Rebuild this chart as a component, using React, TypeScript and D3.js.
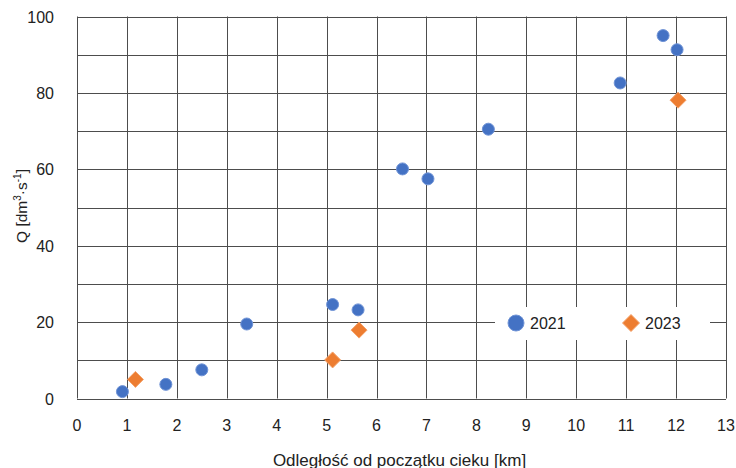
import * as d3 from "d3";

const xTicks = [0, 1, 2, 3, 4, 5, 6, 7, 8, 9, 10, 11, 12, 13];
const yTicks = [0, 20, 40, 60, 80, 100];
const yGrid = [0, 10, 20, 30, 40, 50, 60, 70, 80, 90, 100];

const km2021 = [0.91, 1.78, 2.5, 3.4, 5.12, 5.63, 6.52, 7.03, 8.24, 10.88, 11.74, 12.02];
const q2021 = [1.8, 3.7, 7.5, 19.5, 24.6, 23.2, 60.1, 57.5, 70.5, 82.6, 95.0, 91.3];

const km2023 = [1.17, 5.12, 5.65, 12.04];
const q2023 = [5.0, 10.1, 17.9, 78.1];

const xTitle = "Odległość od początku cieku [km]";

const W = 736;
const H = 468;
const margin = { top: 16.5, right: 10, bottom: 69.5, left: 77 };

const blue = "#4472C4";
const orange = "#ED7D31";
const gridColor = "#4d4d4d";

export default function App() {
  const x = d3.scaleLinear().domain([0, 13]).range([margin.left, W - margin.right]);
  const y = d3.scaleLinear().domain([0, 100]).range([H - margin.bottom, margin.top]);

  const pts2021 = km2021.map((k, i) => [k, q2021[i]]);
  const pts2023 = km2023.map((k, i) => [k, q2023[i]]);

  const diamond = (cx: number, cy: number, r: number) =>
    `M${cx},${cy - r}L${cx + r},${cy}L${cx},${cy + r}L${cx - r},${cy}Z`;

  const font = "'Liberation Sans', Arial, sans-serif";

  return (
    <svg
      width={W}
      height={H}
      style={{ position: "absolute", left: 0, top: 0, fontFamily: font }}
    >
      <rect width={W} height={H} fill="#fff" />
      {yGrid.map((v) => (
        <line
          key={"h" + v}
          x1={x(0)}
          x2={x(13)}
          y1={Math.round(y(v)) + 0.5}
          y2={Math.round(y(v)) + 0.5}
          stroke={gridColor}
          strokeWidth={1}
        />
      ))}
      {xTicks.map((v) => (
        <line
          key={"v" + v}
          x1={Math.round(x(v)) + 0.5}
          x2={Math.round(x(v)) + 0.5}
          y1={y(0)}
          y2={y(100)}
          stroke={gridColor}
          strokeWidth={1}
        />
      ))}
      {yTicks.map((v) => (
        <text
          key={"yl" + v}
          x={54}
          y={y(v) + 6}
          textAnchor="end"
          fontSize={16}
          fill="#222"
        >
          {v}
        </text>
      ))}
      {xTicks.map((v) => (
        <text
          key={"xl" + v}
          x={x(v)}
          y={431}
          textAnchor="middle"
          fontSize={16}
          fill="#222"
        >
          {v}
        </text>
      ))}
      <text x={399.5} y={466} textAnchor="middle" fontSize={17} fill="#222">
        {xTitle}
      </text>
      <text
        transform="translate(27,206) rotate(-90)"
        textAnchor="middle"
        fontSize={15.5}
        fill="#222"
      >
        Q [dm<tspan dy={-6} fontSize={10}>3</tspan>
        <tspan dy={6}>·s</tspan>
        <tspan dy={-6} fontSize={10}>-1</tspan>
        <tspan dy={6}>]</tspan>
      </text>

      {pts2021.map((d, i) => (
        <circle
          key={"c" + i}
          cx={x(d[0])}
          cy={y(d[1])}
          r={6}
          fill={blue}
          stroke="#6f93d6"
          strokeWidth={1}
        />
      ))}
      {pts2023.map((d, i) => (
        <path
          key={"d" + i}
          d={diamond(x(d[0]), y(d[1]), 8)}
          fill={orange}
          stroke="#f4a26a"
          strokeWidth={1}
        />
      ))}

      <g>
        <rect x={495} y={307} width={215} height={33} fill="#fff" />
        <circle cx={516} cy={323} r={8} fill={blue} stroke="#6f93d6" strokeWidth={1} />
        <text x={530} y={329} fontSize={16} fill="#222">
          2021
        </text>
        <path d={diamond(631, 323, 8.5)} fill={orange} stroke="#f4a26a" strokeWidth={1} />
        <text x={645} y={329} fontSize={16} fill="#222">
          2023
        </text>
      </g>
    </svg>
  );
}
